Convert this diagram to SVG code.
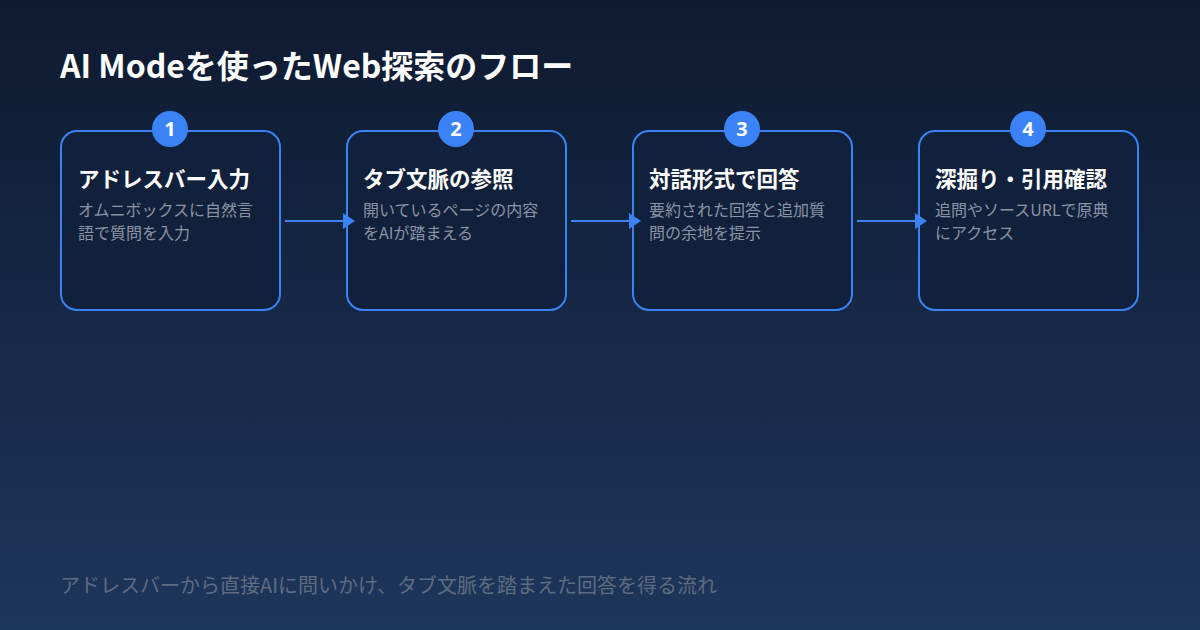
<svg xmlns="http://www.w3.org/2000/svg" width="1200" height="630" viewBox="0 0 1200 630">
<defs>
<linearGradient id="bg" x1="0" y1="0" x2="0" y2="1"><stop offset="0" stop-color="#0e1a30"/><stop offset="1" stop-color="#1d365b"/></linearGradient>
<style>
.box{fill:#12213b;stroke:#3b82f6;stroke-width:2}
.num{fill:#3b82f6}
.nt{font-family:"Noto Sans","Noto Sans CJK JP",sans-serif;font-size:20px;font-weight:700;fill:#fff;text-anchor:middle}
.t{font-family:"Noto Sans CJK JP",sans-serif;font-size:21.5px;font-weight:700;fill:#fff}
.d{font-family:"Noto Sans CJK JP",sans-serif;font-size:16px;fill:#8a94a6}
.c{stroke:#3b82f6;stroke-width:2;fill:none}
.ah{fill:#3b82f6}
</style>
</defs>
<rect width="1200" height="630" fill="url(#bg)"/>
<text x="60" y="78" font-family="Noto Sans CJK JP,sans-serif" font-size="32" font-weight="700" fill="#fff">AI Modeを使ったWeb探索のフロー</text>
<g id="n1"><rect class="box" x="61" y="131" width="219" height="179" rx="16"/><circle class="num" cx="170" cy="129" r="18"/><text class="nt" x="170" y="136">1</text><text class="t" x="78" y="187">アドレスバー入力</text><text class="d" x="78" y="216">オムニボックスに自然言</text><text class="d" x="78" y="239">語で質問を入力</text></g>
<g id="n2"><rect class="box" x="347" y="131" width="219" height="179" rx="16"/><circle class="num" cx="456" cy="129" r="18"/><text class="nt" x="456" y="136">2</text><text class="t" x="363" y="187">タブ文脈の参照</text><text class="d" x="363" y="216">開いているページの内容</text><text class="d" x="363" y="239">をAIが踏まえる</text></g>
<g id="n3"><rect class="box" x="633" y="131" width="219" height="179" rx="16"/><circle class="num" cx="742" cy="129" r="18"/><text class="nt" x="742" y="136">3</text><text class="t" x="649" y="187">対話形式で回答</text><text class="d" x="649" y="216">要約された回答と追加質</text><text class="d" x="649" y="239">問の余地を提示</text></g>
<g id="n4"><rect class="box" x="919" y="131" width="219" height="179" rx="16"/><circle class="num" cx="1028" cy="129" r="18"/><text class="nt" x="1028" y="136">4</text><text class="t" x="935" y="187">深掘り・引用確認</text><text class="d" x="935" y="216">追問やソースURLで原典</text><text class="d" x="935" y="239">にアクセス</text></g>
<g id="connectors">
<line class="c" x1="285" y1="221" x2="346" y2="221"/><path class="ah" d="M343,213 L355,221 L343,229 Z"/>
<line class="c" x1="571" y1="221" x2="632" y2="221"/><path class="ah" d="M629,213 L641,221 L629,229 Z"/>
<line class="c" x1="857" y1="221" x2="918" y2="221"/><path class="ah" d="M915,213 L927,221 L915,229 Z"/>
</g>
<text x="60" y="593" font-family="Noto Sans CJK JP,sans-serif" font-size="20" fill="#5f6b80">アドレスバーから直接AIに問いかけ、タブ文脈を踏まえた回答を得る流れ</text>
</svg>
